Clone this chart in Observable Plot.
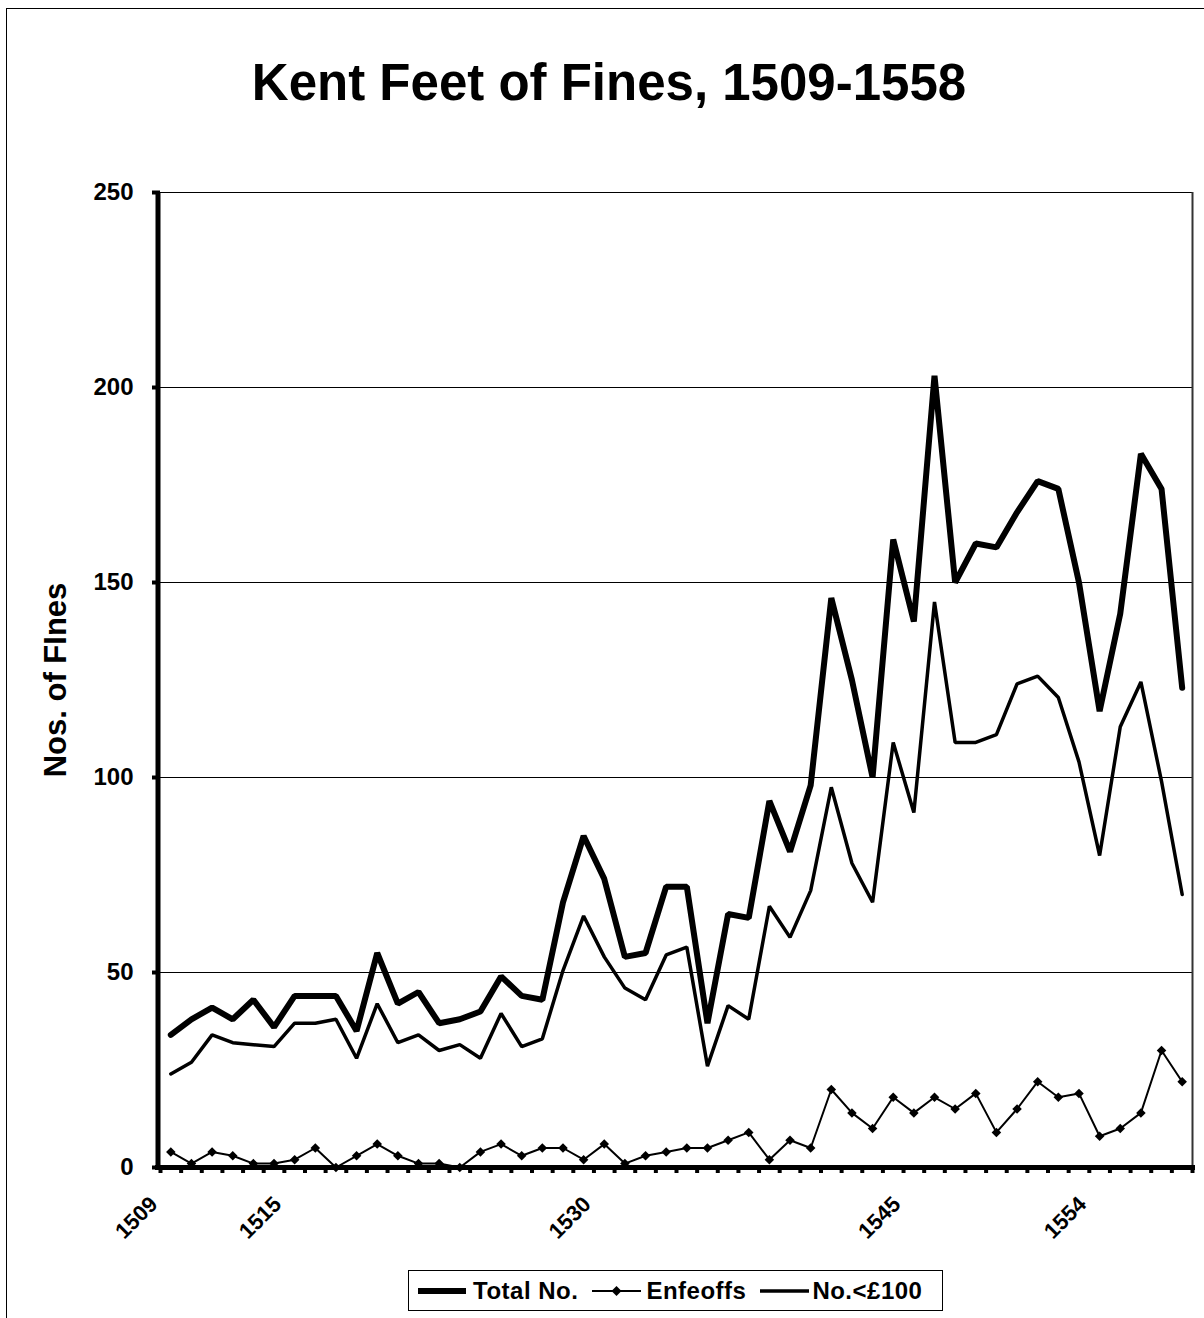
<!DOCTYPE html>
<html>
<head>
<meta charset="utf-8">
<script src="https://cdn.jsdelivr.net/npm/d3@7"></script>
<script src="https://cdn.jsdelivr.net/npm/@observablehq/plot@0.6"></script>
<style>
html, body { margin: 0; padding: 0; background: #fff; }
body { width: 1204px; height: 1318px; overflow: hidden; position: relative; font-family: "Liberation Sans", Arial, sans-serif; color: #000; }
#frame { position: absolute; left: 6px; top: 8px; width: 1260px; height: 1400px; border: 1px solid #000; box-sizing: border-box; }
#title { position: absolute; left: 7px; top: 57px; width: 1204px; text-align: center; font-size: 51px; font-weight: bold; line-height: 51px; }
#chart { position: absolute; left: 0; top: 160px; }
#legend { position: absolute; left: 408px; top: 1270px; width: 535px; height: 41px; border: 1px solid #000; box-sizing: border-box; display: flex; align-items: center; font-size: 24px; font-weight: bold; white-space: nowrap; background: #fff; }
#legend svg { display: block; }
</style>
</head>
<body>
<div id="frame"></div>
<div id="title">Kent Feet of Fines, 1509-1558</div>
<div id="chart"></div>
<div id="legend"></div>
<script>
// ---- data ----
const years = [1509,1510,1511,1512,1513,1514,1515,1516,1517,1518,
               1519,1520,1521,1522,1523,1524,1525,1526,1527,1528,
               1529,1530,1531,1532,1533,1534,1535,1536,1537,1538,
               1539,1540,1541,1542,1543,1544,1545,1546,1547,1548,
               1549,1550,1551,1552,1553,1554,1555,1556,1557,1558];
const labeledYears = [1509, 1515, 1530, 1545, 1554];
const yTicks = [0, 50, 100, 150, 200, 250];
const seriesNames = ["Total No.", "Enfeoffs", "No.<£100"];

const totalNo = [34,38,41,38,43,36,44,44,44,35,
                 55,42,45,37,38,40,49,44,43,68,
                 85,74,54,55,72,72,37,65,64,94,
                 81,98,146,125,100,161,140,203,150,160,
                 159,168,176,174,150,117,142,183,174,123];
const enfeoffs = [4,1,4,3,1,1,2,5,0,3,
                  6,3,1,1,0,4,6,3,5,5,
                  2,6,1,3,4,5,5,7,9,2,
                  7,5,20,14,10,18,14,18,15,19,
                  9,15,22,18,19,8,10,14,30,22];
const under100 = [24,27,34,32,31.5,31,37,37,38,28,
                  42,32,34,30,31.5,28,39.5,31,33,50.5,
                  64.5,54,46,43,54.5,56.5,26,41.5,38,67,
                  59,71,97.5,78,68,109,91,145,109,109,
                  111,124,126,120.5,104,80,113,124.5,99,70];
const yTitle = "Nos. of FInes";

// ---- build tables ----
const toRows = vals => vals.map((v, i) => ({i, year: years[i], v}));
const totalRows = toRows(totalNo);
const enfRows = toRows(enfeoffs);
const underRows = toRows(under100);
const boundaries = years.map((y, i) => i - 0.5).concat([years.length - 0.5]);
const labelIdx = labeledYears.map(y => years.indexOf(y));

const chart = Plot.plot({
  width: 1204,
  height: 1100,
  marginTop: 32,
  marginBottom: 93,
  marginLeft: 160,
  marginRight: 12,
  style: { fontFamily: '"Liberation Sans", Arial, sans-serif', background: "transparent", color: "#000", overflow: "visible" },
  x: { type: "linear", domain: [-0.5, years.length - 0.5] },
  y: { domain: [0, 250] },
  marks: [
    Plot.gridY(yTicks.slice(1), { stroke: "#000", strokeOpacity: 1, strokeWidth: 1 }),
    Plot.ruleX([years.length - 0.5], { stroke: "#333", strokeWidth: 2 }),
    Plot.line(underRows, { x: "i", y: "v", stroke: "#000", strokeWidth: 3.5, strokeLinejoin: "bevel" }),
    Plot.line(enfRows, { x: "i", y: "v", stroke: "#000", strokeWidth: 2, strokeLinejoin: "bevel" }),
    Plot.dot(enfRows, { x: "i", y: "v", symbol: "diamond2", r: 4.3, fill: "#000", stroke: "none" }),
    Plot.line(totalRows, { x: "i", y: "v", stroke: "#000", strokeWidth: 6, strokeLinejoin: "bevel" }),
    Plot.ruleY([0], { stroke: "#000", strokeWidth: 5, insetLeft: -5, insetRight: -3 }),
    Plot.ruleX([-0.5], { stroke: "#000", strokeWidth: 5, dx: -2.5, insetBottom: -3 }),
    Plot.axisX({ ticks: boundaries, tickSize: 6, strokeWidth: 4, fill: "none", label: null }),
    Plot.axisX({ ticks: labelIdx, tickSize: 0, tickPadding: 33, tickRotate: -45, tickFormat: i => String(years[i]), fontSize: 22, fontWeight: "bold", dx: -17, label: null }),
    Plot.axisY({ ticks: yTicks, tickSize: 8, strokeWidth: 4, tickPadding: 19, tickFormat: d => String(d), fontSize: 24, fontWeight: "bold", label: null }),
    Plot.text([yTitle], { text: d => d, frameAnchor: "left", textAnchor: "middle", rotate: -90, dx: -104, fontSize: 31, fontWeight: "bold" })
  ]
});
document.getElementById("chart").appendChild(chart);

// ---- legend ----
const legend = document.getElementById("legend");
const ns = "http://www.w3.org/2000/svg";
function swatch(width, sw, diamond, ml) {
  const s = document.createElementNS(ns, "svg");
  s.setAttribute("width", width);
  s.setAttribute("height", 12);
  s.style.marginLeft = ml + "px";
  const l = document.createElementNS(ns, "line");
  l.setAttribute("x1", 0); l.setAttribute("x2", width);
  l.setAttribute("y1", 6); l.setAttribute("y2", 6);
  l.setAttribute("stroke", "#000"); l.setAttribute("stroke-width", sw);
  s.appendChild(l);
  if (diamond) {
    const p = document.createElementNS(ns, "path");
    const c = width / 2;
    p.setAttribute("d", `M${c},1 L${c + 5},6 L${c},11 L${c - 5},6 Z`);
    p.setAttribute("fill", "#000");
    s.appendChild(p);
  }
  return s;
}
function label(txt, ml) {
  const sp = document.createElement("span");
  sp.textContent = txt;
  sp.style.marginLeft = ml + "px";
  sp.style.letterSpacing = "0.5px";
  return sp;
}
legend.appendChild(swatch(48, 6, false, 9));
legend.appendChild(label(seriesNames[0], 7));
legend.appendChild(swatch(49, 2, true, 14));
legend.appendChild(label(seriesNames[1], 5));
legend.appendChild(swatch(49, 3.5, false, 14));
legend.appendChild(label(seriesNames[2], 3));
</script>
</body>
</html>
